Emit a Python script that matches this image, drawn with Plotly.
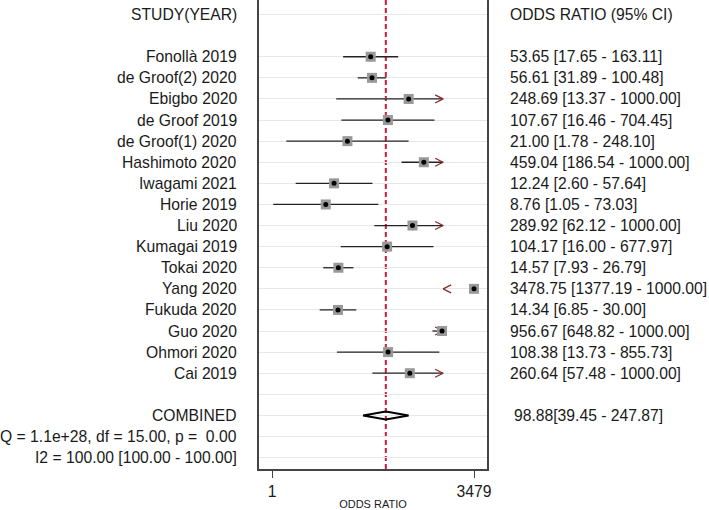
import plotly.graph_objects as go

# datos del forest plot
studies = ["Fonollà 2019", "de Groof(2) 2020", "Ebigbo 2020", "de Groof 2019",
           "de Groof(1) 2020", "Hashimoto 2020", "Iwagami 2021", "Horie 2019",
           "Liu 2020", "Kumagai 2019", "Tokai 2020", "Yang 2020", "Fukuda 2020",
           "Guo 2020", "Ohmori 2020", "Cai 2019"]
or_vals = [53.65, 56.61, 248.69, 107.67, 21.00, 459.04, 12.24, 8.76,
           289.92, 104.17, 14.57, 3478.75, 14.34, 956.67, 108.38, 260.64]
ci_low = [17.65, 31.89, 13.37, 16.46, 1.78, 186.54, 2.60, 1.05,
          62.12, 16.00, 7.93, 1377.19, 6.85, 648.82, 13.73, 57.48]
ci_high = [163.11, 100.48, 1000.00, 704.45, 248.10, 1000.00, 57.64, 73.03,
           1000.00, 677.97, 26.79, 1000.00, 30.00, 1000.00, 855.73, 1000.00]
or_comb = 98.88
ci_comb = [39.45, 247.87]
het_q = "Q = 1.1e+28, df = 15.00, p =\u00a0 0.00"
het_i2 = "I2 = 100.00 [100.00 - 100.00]"
x_ticks = [1, 3479]
ci_cap = 1000.0

rows = [i + 2 for i in range(len(studies))]
row_comb = 19
y_range = [21.54, -0.69]

font = dict(family="Liberation Sans, Arial, sans-serif", size=15.7, color="#1a1a1a")
arrow_color = "#8b2a2a"

fig = go.Figure()

# lineas de intervalos
xs, ys = [], []
for r, lo, hi in zip(rows, ci_low, ci_high):
    if lo < hi:
        xs += [lo, hi, None]
        ys += [r, r, None]
fig.add_trace(go.Scatter(x=xs, y=ys, mode="lines", line=dict(color="#222222", width=1.3),
                         hoverinfo="skip", showlegend=False))

# flechas donde el intervalo se corta en 1000
ax_, ay_ = [], []
w = 10 ** -0.14
for r, o, lo, hi in zip(rows, or_vals, ci_low, ci_high):
    if hi >= ci_cap and lo < hi:
        ax_ += [ci_cap * w, ci_cap, ci_cap * w, None]
        ay_ += [r - 0.19, r, r + 0.19, None]
    elif lo > hi:
        ax_ += [ci_cap / w, ci_cap, ci_cap / w, None]
        ay_ += [r - 0.19, r, r + 0.19, None]
fig.add_trace(go.Scatter(x=ax_, y=ay_, mode="lines", line=dict(color=arrow_color, width=1.3),
                         hoverinfo="skip", showlegend=False))

# cuadrados y puntos
fig.add_trace(go.Scatter(x=or_vals, y=rows, mode="markers",
                         marker=dict(symbol="square", size=10, color="#999999"),
                         showlegend=False))
fig.add_trace(go.Scatter(x=or_vals, y=rows, mode="markers",
                         marker=dict(symbol="circle", size=5, color="black"),
                         showlegend=False))

# diamante combinado
fig.add_trace(go.Scatter(x=[ci_comb[0], or_comb, ci_comb[1], or_comb, ci_comb[0]],
                         y=[row_comb, row_comb - 0.19, row_comb, row_comb + 0.19, row_comb],
                         mode="lines", line=dict(color="black", width=2),
                         hoverinfo="skip", showlegend=False))

# linea vertical del efecto combinado (debajo de los cuadrados)
fig.add_shape(type="line", x0=or_comb, x1=or_comb, y0=0, y1=1,
              xref="x", yref="paper", layer="below",
              line=dict(color="#c81e3c", width=2, dash="5px,3px"))

# textos a la izquierda y derecha
left = [(0, "STUDY(YEAR)")] + list(zip(rows, studies)) + \
       [(row_comb, "COMBINED"), (20, het_q), (21, het_i2)]
for r, t in left:
    fig.add_annotation(x=0, xref="x domain", y=r, yref="y", text=t, showarrow=False,
                       xanchor="right", yanchor="middle", xshift=-20, font=font)

right = [(0, "ODDS RATIO (95% CI)", 21)]
for r, o, lo, hi in zip(rows, or_vals, ci_low, ci_high):
    right.append((r, f"{o:.2f} [{lo:.2f} - {hi:.2f}]", 21))
right.append((row_comb, f"{or_comb:.2f}[{ci_comb[0]:.2f} - {ci_comb[1]:.2f}]", 25))
for r, t, sh in right:
    fig.add_annotation(x=1, xref="x domain", y=r, yref="y", text=t, showarrow=False,
                       xanchor="left", yanchor="middle", xshift=sh, font=font)

fig.update_layout(
    width=709, height=510,
    margin=dict(l=259, r=222, t=0, b=41),
    plot_bgcolor="white", paper_bgcolor="white",
    font=font,
)
fig.update_xaxes(type="log", range=[-0.228, 3.769], tickvals=x_ticks,
                 ticktext=[str(v) for v in x_ticks], ticks="outside", ticklen=7,
                 tickcolor="#444444", showline=True, linecolor="#444444", linewidth=1.5,
                 showgrid=False, zeroline=False, tickfont=font,
                 title=dict(text="ODDS RATIO", font=dict(family=font["family"], size=11, color="#1a1a1a"),
                            standoff=2))
fig.update_yaxes(range=y_range, tickvals=[0] + list(range(2, 22)), showticklabels=False,
                 showgrid=True, gridcolor="#e4e8ec", gridwidth=1, ticks="",
                 showline=True, mirror=True, linecolor="#444444", linewidth=1.5,
                 zeroline=False)

# sin margen del body para que la figura ocupe toda la ventana
fig.write_html("out.html", config={"displayModeBar": False},
               post_script="document.body.style.margin='0';")
